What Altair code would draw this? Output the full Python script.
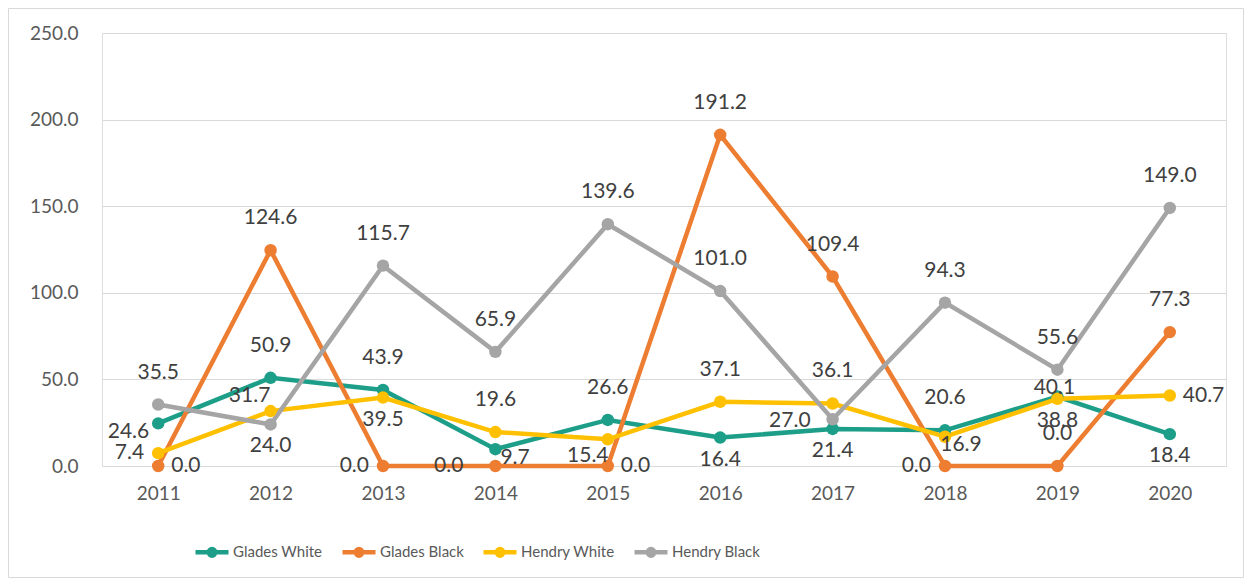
import altair as alt
import pandas as pd

# ---------------- data ----------------
years = ["2011", "2012", "2013", "2014", "2015", "2016", "2017", "2018", "2019", "2020"]
series_names = ["Glades White", "Glades Black", "Hendry White", "Hendry Black"]
glades_white = [24.6, 50.9, 43.9, 9.7, 26.6, 16.4, 21.4, 20.6, 40.1, 18.4]
glades_black = [0.0, 124.6, 0.0, 0.0, 0.0, 191.2, 109.4, 0.0, 0.0, 77.3]
hendry_white = [7.4, 31.7, 39.5, 19.6, 15.4, 37.1, 36.1, 16.9, 38.8, 40.7]
hendry_black = [35.5, 24.0, 115.7, 65.9, 139.6, 101.0, 27.0, 94.3, 55.6, 149.0]
y_ticks = [0, 50, 100, 150, 200, 250]

# ---------------- styling ----------------
colors = ["#1C9E89", "#ED7D31", "#FFC000", "#A5A5A5"]

# data-label placement codes per point (Excel's label positions)
gw_pos = ["L+", "A", "A", "R+", "A", "B", "B", "A", "N", "B"]
gb_pos = ["R", "A", "L", "L2", "R", "A", "A", "L", "A", "A"]
hw_pos = ["L", "UL", "B", "A", "DL", "A", "A", "DR", "B", "R"]
hb_pos = ["A", "B", "A", "A", "A", "A", "LL", "A", "A", "A"]

placements = {
    "A": (0, -32, "center"),
    "B": (0, 22, "center"),
    "L": (-14, 0, "right"),
    "L2": (-32, 0, "right"),
    "LL": (-22, 2, "right"),
    "L+": (-9, 9, "right"),
    "R": (13, 0, "left"),
    "R+": (5, 9, "left"),
    "N": (-3, -9, "center"),
    "UL": (-21, -15, "center"),
    "DL": (-20, 17, "center"),
    "DR": (16, 8, "center"),
}

rows = []
for name, vals, pos in zip(series_names,
                           [glades_white, glades_black, hendry_white, hendry_black],
                           [gw_pos, gb_pos, hw_pos, hb_pos]):
    for y, v, p in zip(years, vals, pos):
        rows.append({"year": y, "series": name, "value": v, "pos": p})
df = pd.DataFrame(rows)

FONT = "Lato"
PLOT_W, PLOT_H = 1124, 433

legend_path = ("M-1,0L1,0"
               "M-0.2,0A0.2,0.2,0,1,0,0.2,0A0.2,0.2,0,1,0,-0.2,0"
               "M-0.08,0A0.08,0.08,0,1,0,0.08,0A0.08,0.08,0,1,0,-0.08,0")

x_enc = alt.X("year:O", sort=years, title=None,
              axis=alt.Axis(labelAngle=0, ticks=False, domain=False, grid=False,
                            labelPadding=18, labelFontSize=19, labelColor="#595959",
                            labelFont=FONT))
y_enc = alt.Y("value:Q", scale=alt.Scale(domain=[0, 250], nice=False), title=None,
              axis=alt.Axis(values=y_ticks, format=".1f", ticks=False, domain=False,
                            grid=True, gridColor="#D9D9D9", gridWidth=1,
                            labelPadding=24, labelFontSize=19, labelColor="#595959",
                            labelFont=FONT))

color_scale = alt.Scale(domain=series_names, range=colors)

base = alt.Chart(df)

lines = base.mark_line(strokeWidth=4.5).encode(
    x=x_enc, y=y_enc,
    color=alt.Color("series:N", scale=color_scale, sort=series_names,
                    legend=alt.Legend(title=None, orient="none", legendX=91, legendY=500,
                                      direction="horizontal", symbolType=legend_path,
                                      symbolSize=1089, symbolStrokeWidth=4.5,
                                      labelFontSize=15, labelFont=FONT,
                                      labelColor="#595959", labelOffset=2,
                                      gridAlign="each", columnPadding=10, padding=0)),
)

points = base.mark_circle(size=155, opacity=1).encode(
    x=x_enc, y=y_enc,
    color=alt.Color("series:N", scale=color_scale, sort=series_names, legend=None),
)

text_layers = []
for code, (dx, dy, align) in placements.items():
    text_layers.append(
        base.transform_filter(alt.datum.pos == code).mark_text(
            dx=dx, dy=dy, align=align, baseline="middle",
            fontSize=21, font=FONT, color="#404040"
        ).encode(x=x_enc, y=y_enc, text=alt.Text("value:Q", format=".1f"))
    )

border = alt.Chart(pd.DataFrame({"k": [0]})).mark_rect(
    fill=None, stroke="#D9D9D9", strokeWidth=1
).encode(x=alt.value(-93.5), x2=alt.value(PLOT_W + 17.5),
         y=alt.value(-24.5), y2=alt.value(PLOT_H + 111.5))

chart = alt.layer(border, lines, points, *text_layers).properties(
    width=PLOT_W, height=PLOT_H,
    autosize=alt.AutoSizeParams(type="none"),
    padding={"left": 94, "top": 25, "right": 18, "bottom": 112},
).configure_view(stroke=None).configure(font=FONT, background="white")

chart.save("out.html", embed_options={"renderer": "svg", "actions": False})
